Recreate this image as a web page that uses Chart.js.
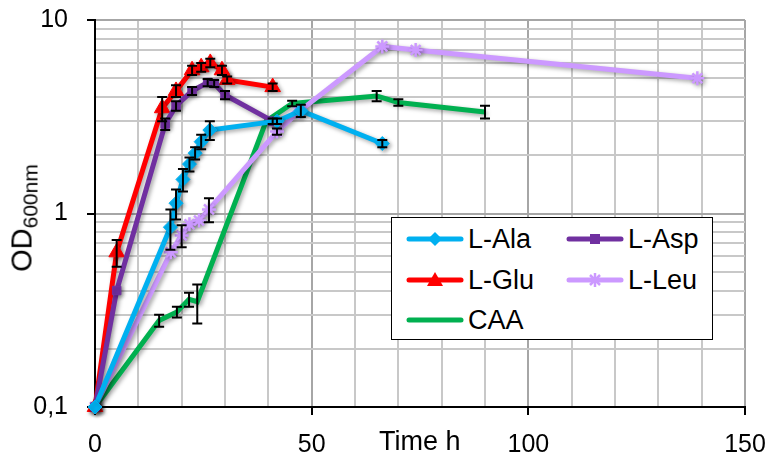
<!DOCTYPE html>
<html>
<head>
<meta charset="utf-8">
<script src="https://cdn.jsdelivr.net/npm/chart.js@4"></script>
<style>
  body { margin: 0; background: #fff; }
  #wrap { position: relative; width: 766px; height: 468px; font-family: 'Liberation Sans', Arial, sans-serif; }
  #ytitle { position: absolute; left: 22px; top: 218px; transform: translate(-50%, -50%) rotate(-90deg);
            font-size: 29px; line-height: 1; white-space: nowrap; color: #000; }
  #ytitle span { font-size: 21px; position: relative; top: 6px; }
  #xtitle { position: absolute; left: 379px; top: 428px; font-size: 27px; line-height: 1; color: #000; white-space: nowrap; }
  #legend { position: absolute; left: 391px; top: 217px; width: 322px; height: 123px; box-sizing: border-box;
            border: 1px solid #000; background: #fff; }
  .item { position: absolute; height: 27px; }
  .item svg { position: absolute; left: 0; top: 3px; }
  .item div { position: absolute; left: 62px; top: 0; font-size: 27px; line-height: 1; color: #000; white-space: nowrap; }
</style>
</head>
<body>
<div id="wrap">
  <canvas id="chart" width="766" height="468"></canvas>
  <div id="ytitle">OD<span>600nm</span></div>
  <div id="xtitle">Time h</div>
  <div id="legend"></div>
</div>
<script>
// values (time in h, OD600 and error)
const alaTime = [0, 17.4, 18.7, 20.3, 21.8, 23.1, 24.5, 26.5, 42, 47.5, 66.3];
const alaOD   = [0.1, 0.85, 1.13, 1.5, 1.8, 2.05, 2.35, 2.7, 3.0, 3.4, 2.3];
const alaErr  = [0, 0.2, 0.2, 0.2, 0.15, 0.15, 0.2, 0.3, 0.1, 0.25, 0.1];

const aspTime = [0, 5, 16.2, 18.7, 22.4, 26, 27.5, 30, 41];
const aspOD   = [0.1, 0.4, 2.9, 3.6, 4.3, 4.75, 4.7, 4.1, 3.0];
const aspErr  = [0, 0, 0.2, 0.2, 0.2, 0.2, 0.2, 0.2, 0.1];

const gluTime = [0, 5, 15.5, 18.7, 22.4, 24.5, 26.6, 29.3, 30.5, 41];
const gluOD   = [0.1, 0.63, 3.5, 4.3, 5.5, 5.7, 6.0, 5.5, 4.9, 4.5];
const gluErr  = [0, 0.1, 0.5, 0.3, 0.3, 0.3, 0.3, 0.3, 0.2, 0.2];

const leuTime = [0, 17.5, 20, 21.8, 24, 26.3, 42, 47, 66.3, 74, 139];
const leuOD   = [0.1, 0.63, 0.77, 0.88, 0.92, 1.05, 2.65, 3.35, 7.3, 7.0, 5.0];
const leuErr  = [0, 0, 0.1, 0, 0, 0.15, 0.1, 0, 0, 0, 0];

const caaTime = [0, 14.8, 18.9, 21.7, 23.6, 39.5, 45.5, 65, 70, 90];
const caaOD   = [0.1, 0.28, 0.31, 0.36, 0.35, 3.0, 3.7, 4.05, 3.75, 3.35];
const caaErr  = [0, 0.02, 0.02, 0.03, 0.08, 0, 0.12, 0.25, 0.15, 0.25];

const seriesNames = ['L-Ala', 'L-Asp', 'L-Glu', 'L-Leu', 'CAA'];
const xTickLabels = [0, 50, 100, 150];
const yTickLabels = ['0,1', '1', '10'];

function pts(t, v) {
  return t.map((x, i) => ({ x: x, y: v[i] }));
}

const series = [
  { label: seriesNames[0], data: pts(alaTime, alaOD), err: alaErr, color: '#00B0F0', style: 'rectRot', r: 7 },
  { label: seriesNames[1], data: pts(aspTime, aspOD), err: aspErr, color: '#7030A0', style: 'rect', r: 6 },
  { label: seriesNames[2], data: pts(gluTime, gluOD), err: gluErr, color: '#FF0000', style: 'triangle', r: 9 },
  { label: seriesNames[3], data: pts(leuTime, leuOD), err: leuErr, color: '#CC99FF', style: 'star', r: 7 },
  { label: seriesNames[4], data: pts(caaTime, caaOD), err: caaErr, color: '#00B050', style: 'circle', r: 0 }
];

// log grid: 1..9 times each decade between 0.1 and 10
const yGrid = [];
for (let e = -1; e <= 0; e++) {
  for (let k = 1; k <= 9; k++) yGrid.push(Number((k * Math.pow(10, e)).toFixed(3)));
}
yGrid.push(10);

function isDecade(v) {
  const l = Math.log10(v);
  return Math.abs(l - Math.round(l)) < 1e-9;
}

// drop shadow under lines and markers, error bars on top
const excelLook = {
  id: 'excelLook',
  beforeDatasetsDraw(chart) {
    const ctx = chart.ctx;
    ctx.save();
    ctx.shadowColor = 'rgba(0,0,0,0.35)';
    ctx.shadowBlur = 4;
    ctx.shadowOffsetX = 2;
    ctx.shadowOffsetY = 2;
  },
  afterDatasetsDraw(chart) {
    const ctx = chart.ctx;
    ctx.restore();
    const xs = chart.scales.x, ys = chart.scales.y;
    ctx.save();
    ctx.strokeStyle = '#000';
    ctx.lineWidth = 2;
    series.forEach(s => {
      s.data.forEach((p, i) => {
        const e = s.err[i];
        if (!e) return;
        const px = xs.getPixelForValue(p.x);
        const top = ys.getPixelForValue(p.y + e);
        const bot = ys.getPixelForValue(p.y - e);
        ctx.beginPath();
        ctx.moveTo(px, top); ctx.lineTo(px, bot);
        ctx.moveTo(px - 5, top); ctx.lineTo(px + 5, top);
        ctx.moveTo(px - 5, bot); ctx.lineTo(px + 5, bot);
        ctx.stroke();
      });
    });
    ctx.restore();
  }
};

const tickFont = { family: "'Liberation Sans', Arial, sans-serif", size: 25 };

new Chart(document.getElementById('chart'), {
  type: 'line',
  data: {
    datasets: series.map(s => ({
      label: s.label,
      data: s.data,
      borderColor: s.color,
      backgroundColor: s.color,
      borderWidth: 5,
      pointStyle: s.style,
      pointRadius: s.r,
      pointBorderWidth: s.style === 'star' ? 2.5 : 1,
      pointBorderColor: s.color,
      pointBackgroundColor: s.color,
      tension: 0,
      clip: false
    }))
  },
  options: {
    responsive: false,
    animation: false,
    layout: { padding: { left: 0, right: 21, top: 20, bottom: 0 } },
    plugins: { legend: { display: false }, tooltip: { enabled: false } },
    scales: {
      x: {
        type: 'linear',
        min: 0,
        max: 150,
        afterFit: s => { s.height = 61; s.paddingLeft = 0; s.paddingRight = 0; },
        ticks: {
          stepSize: 10,
          autoSkip: false,
          maxRotation: 0,
          padding: 15,
          color: '#000',
          font: tickFont,
          callback: v => xTickLabels.includes(v) ? String(v) : ''
        },
        grid: {
          color: c => (c.tick && c.tick.value % 50 === 0) ? '#a6a6a6' : '#c8c8c8',
          lineWidth: 2,
          tickLength: 8,
          tickWidth: 2,
          tickColor: c => (c.tick && xTickLabels.includes(c.tick.value)) ? '#000' : 'rgba(0,0,0,0)'
        },
        border: { color: '#000', width: 2 }
      },
      y: {
        type: 'logarithmic',
        min: 0.1,
        max: 10,
        afterFit: s => { s.width = 95; s.paddingTop = 0; s.paddingBottom = 0; },
        afterBuildTicks: s => { s.ticks = yGrid.map(v => ({ value: v })); },
        ticks: {
          autoSkip: false,
          padding: 19,
          color: '#000',
          font: tickFont,
          callback: v => isDecade(v) ? yTickLabels[Math.round(Math.log10(v)) + 1] : ''
        },
        grid: {
          color: c => (c.tick && isDecade(c.tick.value)) ? '#a6a6a6' : '#c8c8c8',
          lineWidth: 2,
          tickLength: 8,
          tickWidth: 2,
          tickColor: c => (c.tick && isDecade(c.tick.value)) ? '#000' : 'rgba(0,0,0,0)'
        },
        border: { color: '#000', width: 2 }
      }
    }
  },
  plugins: [excelLook]
});

// legend drawn as html, same colours and marker shapes
function markerSvg(s) {
  const c = s.color;
  let m = '';
  if (s.style === 'rectRot') m = `<polygon points="29,3 36,10 29,17 22,10" fill="${c}"/>`;
  if (s.style === 'rect') m = `<rect x="24" y="5" width="10" height="10" fill="${c}"/>`;
  if (s.style === 'triangle') m = `<polygon points="29,2 37,16 21,16" fill="${c}"/>`;
  if (s.style === 'star') m = `<g stroke="${c}" stroke-width="2.5"><line x1="29" y1="3" x2="29" y2="17"/><line x1="22" y1="10" x2="36" y2="10"/><line x1="24" y1="5" x2="34" y2="15"/><line x1="34" y1="5" x2="24" y2="15"/></g>`;
  return `<svg width="58" height="20"><line x1="3" y1="10" x2="55" y2="10" stroke="${c}" stroke-width="5" stroke-linecap="round"/>${m}</svg>`;
}

const legendPos = [[14, 8], [174, 8], [14, 49], [174, 49], [14, 89]];
const legendOrder = [0, 1, 2, 3, 4];
const legend = document.getElementById('legend');
legendOrder.forEach((k, i) => {
  const s = series[k];
  const el = document.createElement('div');
  el.className = 'item';
  el.style.left = legendPos[i][0] + 'px';
  el.style.top = legendPos[i][1] + 'px';
  el.innerHTML = markerSvg(s) + `<div>${s.label}</div>`;
  legend.appendChild(el);
});
</script>
</body>
</html>
